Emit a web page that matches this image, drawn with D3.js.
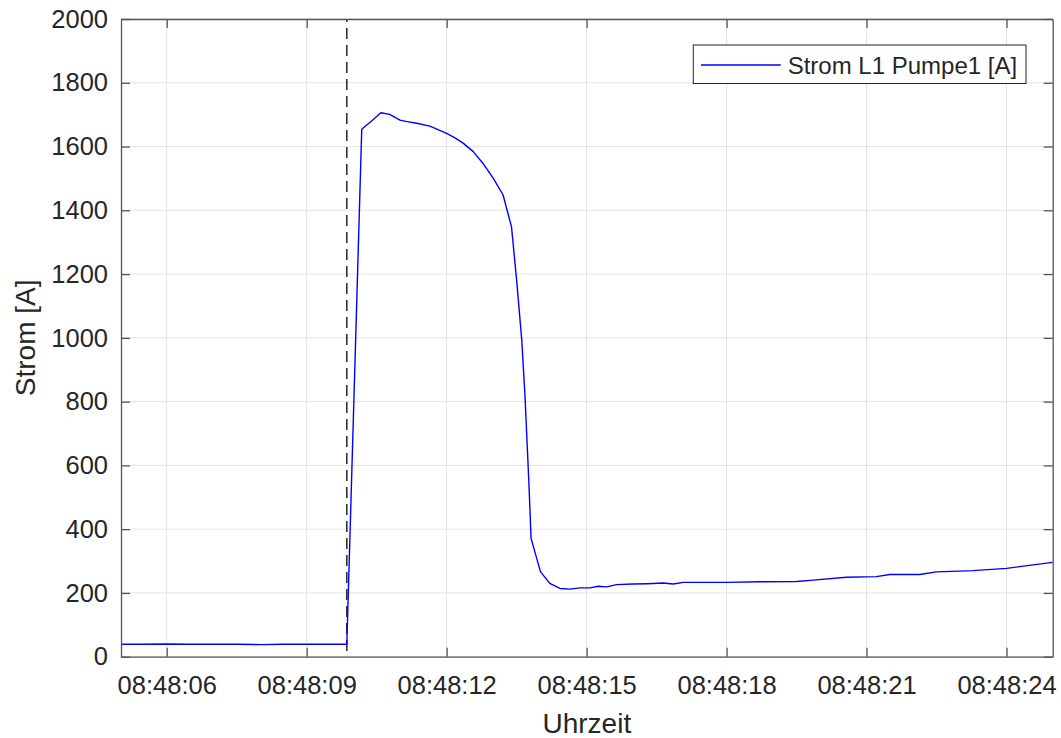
<!DOCTYPE html>
<html>
<head>
<meta charset="utf-8">
<script src="https://cdn.jsdelivr.net/npm/d3@7"></script>
<style>
  html, body { margin: 0; padding: 0; background: #fff; }
  svg { display: block; font-family: "Liberation Sans", Arial, sans-serif; }
</style>
</head>
<body>
<svg id="chart" width="1061" height="738"></svg>
<script>
// ---- data (seconds after 08:48:00, current in A) ----
const seconds = [5.02, 5.5, 6.0, 6.5, 7.0, 7.5, 8.0, 8.5, 9.0, 9.5, 9.86,
  10.18, 10.39, 10.59, 10.78, 11.0, 11.15, 11.36, 11.64, 12.0, 12.18, 12.36, 12.57, 12.78,
  13.0, 13.21, 13.39, 13.5, 13.61, 13.68, 13.76, 13.81, 14.01, 14.21, 14.43, 14.64, 14.86,
  15.07, 15.25, 15.43, 15.64, 16.0, 16.3, 16.64, 16.86, 17.07, 17.43, 18.0, 18.71, 19.5,
  19.86, 20.57, 21.21, 21.5, 22.14, 22.5, 23.28, 24.0, 24.57, 24.99];
const current = [39, 39, 40, 39, 39, 39, 38, 39, 39, 39, 39,
  1654, 1680, 1706, 1701, 1683, 1678, 1673, 1664, 1641, 1627, 1610, 1584, 1547,
  1500, 1448, 1348, 1181, 993, 815, 554, 371, 267, 230, 214, 212, 216,
  216, 221, 219, 226, 228, 229, 231, 228, 233, 233, 233, 235, 236,
  240, 249, 251, 258, 258, 266, 270, 277, 288, 296];
const xDomainSeconds = [5.02, 24.99];
const eventSecond = 9.86;           // dashed marker
const yTicks = [0, 200, 400, 600, 800, 1000, 1200, 1400, 1600, 1800, 2000];
const yDomain = [0, 2000];
const seriesName = "Strom L1 Pumpe1 [A]";
const xLabel = "Uhrzeit";
const yLabel = "Strom [A]";

const toDate = s => new Date(2000, 0, 1, 8, 48, 0, Math.round(s * 1000));

// ---- layout ----
const W = 1061, H = 738;
const margin = { left: 121, right: 8.3, top: 19, bottom: 81.3 };
const pw = W - margin.left - margin.right;
const ph = H - margin.top - margin.bottom;

const svg = d3.select("#chart");
const g = svg.append("g").attr("transform", `translate(${margin.left},${margin.top})`);

const x = d3.scaleTime().domain(xDomainSeconds.map(toDate)).range([0, pw]);
const y = d3.scaleLinear().domain(yDomain).range([ph, 0]);

const xTickVals = x.ticks(d3.timeSecond.every(3));
const fmt = d3.timeFormat("%H:%M:%S");

const axisColor = "#555";
const textColor = "#262626";
const gridColor = "#e3e3e3";
const tickLen = 9;

// grid
g.append("g").selectAll("line.gx").data(xTickVals).join("line")
  .attr("x1", d => x(d)).attr("x2", d => x(d)).attr("y1", 0).attr("y2", ph)
  .attr("stroke", gridColor).attr("stroke-width", 1);
g.append("g").selectAll("line.gy").data(yTicks).join("line")
  .attr("x1", 0).attr("x2", pw).attr("y1", d => y(d)).attr("y2", d => y(d))
  .attr("stroke", gridColor).attr("stroke-width", 1);

// dashed event line
g.append("line")
  .attr("x1", x(toDate(eventSecond))).attr("x2", x(toDate(eventSecond)))
  .attr("y1", y(yDomain[1])).attr("y2", y(yDomain[0]))
  .attr("stroke", "#262626").attr("stroke-width", 1.5)
  .attr("stroke-dasharray", "11,6").attr("stroke-dashoffset", 8);

// data line
const pts = seconds.map((s, i) => [toDate(s), current[i]]);
g.append("path").datum(pts)
  .attr("fill", "none").attr("stroke", "#0000ff").attr("stroke-width", 1.4)
  .attr("stroke-linejoin", "round")
  .attr("d", d3.line().x(d => x(d[0])).y(d => y(d[1])));

// axes (inward ticks, box)
const xAxisB = d3.axisBottom(x).tickValues(xTickVals).tickFormat(fmt).tickSizeInner(-tickLen).tickSizeOuter(0).tickPadding(19);
const xAxisT = d3.axisTop(x).tickValues(xTickVals).tickFormat("").tickSizeInner(-tickLen).tickSizeOuter(0);
const yAxisL = d3.axisLeft(y).tickValues(yTicks).tickFormat(d3.format("d")).tickSizeInner(-tickLen).tickSizeOuter(0).tickPadding(13);
const yAxisR = d3.axisRight(y).tickValues(yTicks).tickFormat("").tickSizeInner(-tickLen).tickSizeOuter(0);

function styleAxis(sel) {
  sel.selectAll("path.domain").attr("stroke", axisColor).attr("stroke-width", 1.3);
  sel.selectAll(".tick line").attr("stroke", axisColor).attr("stroke-width", 1.3);
  sel.selectAll(".tick text").attr("fill", textColor).attr("font-size", 25.5)
    .attr("font-family", "'Liberation Sans', Arial, sans-serif");
}
g.append("g").attr("transform", `translate(0,${ph})`).call(xAxisB).call(styleAxis);
g.append("g").call(xAxisT).call(styleAxis);
g.append("g").call(yAxisL).call(styleAxis);
g.append("g").attr("transform", `translate(${pw},0)`).call(yAxisR).call(styleAxis);

// axis labels
svg.append("text").attr("x", margin.left + pw / 2).attr("y", 733)
  .attr("text-anchor", "middle").attr("fill", textColor).attr("font-size", 28)
  .text(xLabel);
svg.append("text")
  .attr("transform", `translate(35,${margin.top + ph / 2}) rotate(-90)`)
  .attr("text-anchor", "middle").attr("fill", textColor).attr("font-size", 28)
  .text(yLabel);

// legend
const lg = g.append("g").attr("transform", `translate(${pw - 359.4},26)`);
lg.append("rect").attr("x", 0).attr("y", 0).attr("width", 332.7).attr("height", 38.5)
  .attr("fill", "#fff").attr("stroke", "#262626").attr("stroke-width", 1);
lg.append("line").attr("x1", 7.7).attr("x2", 87.4).attr("y1", 20).attr("y2", 20)
  .attr("stroke", "#0000ff").attr("stroke-width", 1.3);
lg.append("text").attr("x", 94.4).attr("y", 29).attr("fill", textColor).attr("font-size", 24)
  .text(seriesName);
</script>
</body>
</html>
